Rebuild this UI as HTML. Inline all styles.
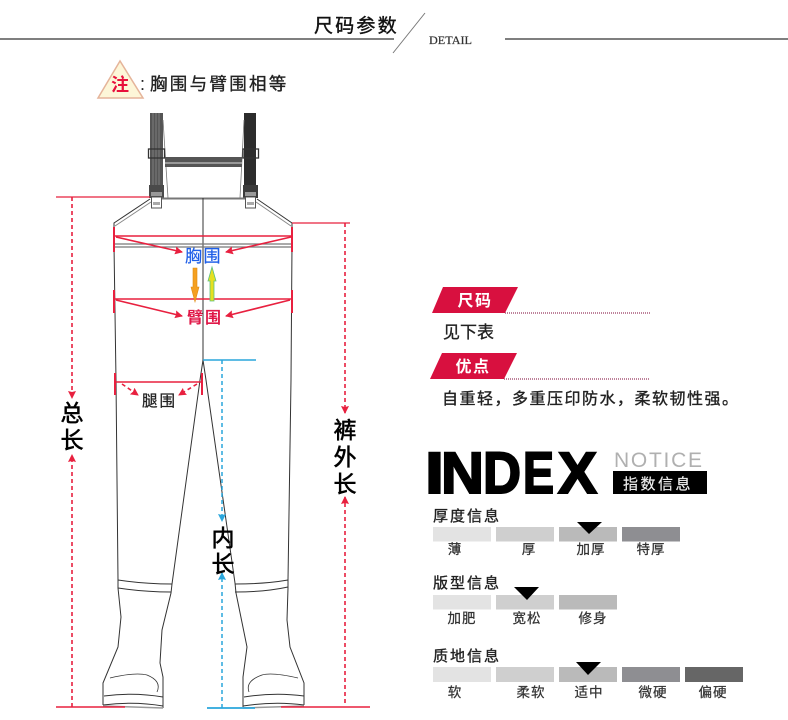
<!DOCTYPE html>
<html><head><meta charset="utf-8">
<style>
html,body{margin:0;padding:0;background:#fff;width:788px;height:720px;overflow:hidden}
svg{display:block;filter:blur(.3px)}
text{font-family:"Liberation Sans","Noto Sans CJK SC",sans-serif}
</style></head><body>
<svg width="788" height="720" viewBox="0 0 788 720" xmlns="http://www.w3.org/2000/svg">
<defs>
<marker id="r" viewBox="0 0 8 8" refX="7" refY="4" markerWidth="8" markerHeight="8" markerUnits="userSpaceOnUse" orient="auto"><path d="M0 0L8 4L0 8L1 4Z" fill="#e8203f"/></marker>
<marker id="b" viewBox="0 0 8 8" refX="7" refY="4" markerWidth="8" markerHeight="8" markerUnits="userSpaceOnUse" orient="auto"><path d="M0 0L8 4L0 8L1 4Z" fill="#2aa6dc"/></marker>
</defs>

<!-- header -->
<line x1="0" y1="39" x2="394" y2="39" stroke="#555" stroke-width="1.500"/>
<line x1="505" y1="39" x2="788" y2="39" stroke="#555" stroke-width="1.500"/>
<line x1="425" y1="13" x2="393" y2="53" stroke="#777" stroke-width="1"/>
<text x="314" y="32" font-size="19" letter-spacing="2.200" fill="#111" stroke="#111" stroke-width=".4">尺码参数</text>
<text x="429" y="44" font-size="12" fill="#333" stroke="#333" stroke-width=".2" style='font-family:"Liberation Serif",serif' textLength="43" lengthAdjust="spacingAndGlyphs">DETAIL</text>

<!-- note -->
<path d="M120 61L98 98H143Z" fill="#fdf6d8" stroke="#e5b49a" stroke-width="1.500"/>
<text x="120" y="91" font-size="18" font-weight="bold" text-anchor="middle" fill="#e8103c">注</text>
<text x="140" y="90" font-size="18" fill="#222">:</text>
<text x="150" y="90" font-size="17.500" letter-spacing="2.300" fill="#222" stroke="#222" stroke-width=".35">胸围与臂围相等</text>

<!-- straps -->
<g>
<rect x="150" y="113" width="13" height="72" fill="#555"/>
<path d="M153 113V185M156 113V185M159 113V185" stroke="#888" stroke-width=".8"/>
<rect x="244" y="113" width="12" height="72" fill="#2c2c2c"/>
<path d="M163 120L168 198M244 120L240 198" stroke="#777" stroke-width=".8"/>
<rect x="165" y="157" width="77" height="10" fill="#555"/>
<rect x="165" y="162" width="77" height="2" fill="#999"/>
<rect x="148.500" y="149" width="16" height="9" fill="none" stroke="#333" stroke-width="1.300"/>
<rect x="243" y="149" width="15.500" height="9" fill="none" stroke="#333" stroke-width="1.300"/>
<rect x="149" y="185" width="15" height="13" fill="#4a4a4a"/>
<rect x="243" y="185" width="15" height="13" fill="#3a3a3a"/>
<rect x="151" y="192" width="11" height="4" fill="#999"/>
<rect x="245" y="192" width="11" height="4" fill="#999"/>
<rect x="151.500" y="197" width="10" height="11" fill="#fff" stroke="#555"/>
<rect x="245.500" y="197" width="10" height="11" fill="#fff" stroke="#555"/>
<rect x="153" y="202" width="7" height="3" fill="#aaa"/>
<rect x="247" y="202" width="7" height="3" fill="#aaa"/>
</g>

<!-- body outline -->
<g fill="none" stroke="#333" stroke-width="1">
<line x1="162" y1="198.500" x2="245" y2="198.500" stroke="#777" stroke-width="2"/>
<path d="M150 199L114 223V245L116 380L118 580L118 588L121 617L118 647L103 683V705"/>
<path d="M151 202L115 226" stroke="#888"/>
<path d="M257 199L292 223V245L291 380L288 580V588L287 620L290 647L304 683V705"/>
<path d="M256 202L291 226" stroke="#888"/>
<line x1="203" y1="198" x2="203" y2="360"/>
<path d="M203 360L200 380L172 584L171 593L162 630L160 663L163 677V708"/>
<path d="M203 360L206 380L235 583L236 593L247 647L243 677V707"/>
<path d="M118 580Q145 584 172 584M118 588Q145 592 171 592"/>
<path d="M235 584Q265 584 288 580M235 592Q265 592 288 587"/>
<path d="M104 696Q134 692 163 697M103 705Q134 701 163 706"/>
<path d="M244 697Q275 692 304 696M243 706Q275 701 304 705"/>
<path d="M110 678Q135 672 147 675Q162 681 157 692" stroke-width=".8"/>
<path d="M298 678Q272 672 262 675Q245 681 249 692" stroke-width=".8"/>
<line x1="103" y1="706" x2="163" y2="708" stroke="#999" stroke-width="1.500"/>
<line x1="243" y1="708" x2="304" y2="706" stroke="#999" stroke-width="1.500"/>
</g>

<!-- chest band -->
<path d="M114 244H292M114 247H292" stroke="#777" stroke-width="1.300"/>

<!-- red measures -->
<g stroke="#e8203f" fill="none" stroke-width="1.600">
<line x1="114" y1="236" x2="292" y2="236"/>
<line x1="114" y1="299" x2="291" y2="299"/>
<line x1="115" y1="382" x2="202" y2="382"/>
<path d="M114 227V252M292 227V252M114 290V313M292 290V313M115 373V395M202 373V395" stroke-width="2"/>
<line x1="116" y1="237" x2="182" y2="252" marker-end="url(#r)"/>
<line x1="291" y1="237" x2="226" y2="252" marker-end="url(#r)"/>
<line x1="116" y1="300" x2="182" y2="316" marker-end="url(#r)"/>
<line x1="290" y1="300" x2="226" y2="316" marker-end="url(#r)"/>
<line x1="122" y1="384" x2="138" y2="395" stroke-dasharray="4 3" marker-end="url(#r)"/>
<line x1="197" y1="384" x2="179" y2="395" stroke-dasharray="4 3" marker-end="url(#r)"/>
<line x1="56" y1="197" x2="150" y2="197" stroke-width="1.200"/>
<line x1="292" y1="223" x2="350" y2="223" stroke-width="1.200"/>
<line x1="56" y1="707" x2="125" y2="707"/>
<line x1="281" y1="707" x2="370" y2="707"/>
<line x1="72" y1="197" x2="72" y2="398" stroke-dasharray="4 3" marker-end="url(#r)"/>
<line x1="72" y1="707" x2="72" y2="455" stroke-dasharray="4 3" marker-end="url(#r)"/>
<line x1="345" y1="223" x2="345" y2="413" stroke-dasharray="4 3" marker-end="url(#r)"/>
<line x1="345" y1="703" x2="345" y2="497" stroke-dasharray="4 3" marker-end="url(#r)"/>
</g>

<!-- blue measures -->
<g stroke="#2aa6dc" fill="none" stroke-width="1.500">
<line x1="203" y1="360" x2="256" y2="360"/>
<line x1="207" y1="708" x2="255" y2="708" stroke-width="1.800"/>
<line x1="222" y1="360" x2="222" y2="521" stroke-dasharray="4 3" marker-end="url(#b)"/>
<line x1="222" y1="708" x2="222" y2="573" stroke-dasharray="4 3" marker-end="url(#b)"/>
</g>

<!-- orange / green arrows -->
<path d="M193 268H197V287H199L195 302L191 287H193Z" fill="#f5a020" stroke="#e08a10" stroke-width=".6"/>
<path d="M210 301H214V281H216L212 267L208 281H210Z" fill="#e6e020" stroke="#5cc080" stroke-width=".8"/>

<!-- labels on diagram -->
<text x="185" y="262" font-size="17" letter-spacing="1.500" fill="#1f5fe8" stroke="#1f5fe8" stroke-width=".2">胸围</text>
<text x="187" y="323" font-size="16" letter-spacing="2" font-weight="bold" fill="#e01848">臂围</text>
<text x="142" y="406" font-size="15.500" letter-spacing="2" fill="#222" stroke="#222" stroke-width=".3">腿围</text>
<g font-size="23" fill="#000" stroke="#000" stroke-width=".6" text-anchor="middle">
<text x="72" y="421">总</text>
<text x="72" y="448">长</text>
<text x="345" y="438">裤</text>
<text x="345" y="465">外</text>
<text x="345" y="492">长</text>
<text x="223" y="546">内</text>
<text x="223" y="572">长</text>
</g>

<!-- right panels -->
<path d="M432 313L443 287H518L505 313Z" fill="#d8103f"/>
<path d="M430 379L442 353H517L504 379Z" fill="#d8103f"/>
<line x1="505" y1="313" x2="651" y2="313" stroke="#a85a7a" stroke-width="1.500" stroke-dasharray="1 1"/>
<line x1="504" y1="379" x2="650" y2="379" stroke="#a85a7a" stroke-width="1.500" stroke-dasharray="1 1"/>
<text x="475" y="306" font-size="16" font-weight="bold" letter-spacing="1.500" text-anchor="middle" fill="#fff">尺码</text>
<text x="473" y="372" font-size="16" font-weight="bold" letter-spacing="1.500" text-anchor="middle" fill="#fff">优点</text>
<text x="443" y="338" font-size="17" fill="#222" stroke="#222" stroke-width=".3">见下表</text>
<text x="442" y="404" font-size="16" letter-spacing="1.500" fill="#222" stroke="#222" stroke-width=".35">自重轻，多重压印防水，柔软韧性强。</text>

<!-- INDEX -->
<g font-size="58" font-weight="bold" fill="#000" stroke="#000" stroke-width="2">
<text x="425" y="493" textLength="19" lengthAdjust="spacingAndGlyphs">I</text>
<text x="441" y="493" textLength="43" lengthAdjust="spacingAndGlyphs">N</text>
<text x="483" y="493" textLength="38" lengthAdjust="spacingAndGlyphs">D</text>
<text x="523" y="493" textLength="31" lengthAdjust="spacingAndGlyphs">E</text>
<text x="558" y="493" textLength="39" lengthAdjust="spacingAndGlyphs">X</text>
</g>
<text x="614" y="467" font-size="21" fill="#b0b0b0" textLength="88">NOTICE</text>
<rect x="613" y="471" width="94" height="23" fill="#000"/>
<text x="623" y="489" font-size="15" letter-spacing="2.500" fill="#eee" stroke="#eee" stroke-width=".2">指数信息</text>

<!-- scale sections -->
<g font-size="15" letter-spacing="2" fill="#222" stroke="#222" stroke-width=".35">
<text x="433" y="521">厚度信息</text>
<text x="433" y="588">版型信息</text>
<text x="433" y="661">质地信息</text>
</g>
<g>
<rect x="433" y="527" width="58" height="14.500" fill="#e3e3e3"/>
<rect x="496" y="527" width="58" height="14.500" fill="#cfcfcf"/>
<rect x="559" y="527" width="58" height="14.500" fill="#bababa"/>
<rect x="622" y="527" width="58" height="14.500" fill="#8e8e92"/>
<rect x="433" y="595" width="58" height="14.500" fill="#e3e3e3"/>
<rect x="496" y="595" width="58" height="14.500" fill="#cfcfcf"/>
<rect x="559" y="595" width="58" height="14.500" fill="#bababa"/>
<rect x="433" y="667" width="58" height="15" fill="#e3e3e3"/>
<rect x="496" y="667" width="58" height="15" fill="#cfcfcf"/>
<rect x="559" y="667" width="58" height="15" fill="#bababa"/>
<rect x="622" y="667" width="58" height="15" fill="#8e8e92"/>
<rect x="685" y="667" width="58" height="15" fill="#666"/>
</g>
<path d="M577 522H602L589 534Z M514 587H539L527 600Z M576 662H601L588 675Z" fill="#000"/>
<g font-size="13.500" letter-spacing="1" fill="#333" stroke="#333" stroke-width=".25" text-anchor="middle">
<text x="455" y="554">薄</text>
<text x="529" y="554">厚</text>
<text x="591" y="554">加厚</text>
<text x="651" y="554">特厚</text>
<text x="462" y="623">加肥</text>
<text x="527" y="623">宽松</text>
<text x="593" y="623">修身</text>
<text x="455" y="697">软</text>
<text x="531" y="697">柔软</text>
<text x="589" y="697">适中</text>
<text x="653" y="697">微硬</text>
<text x="713" y="697">偏硬</text>
</g>
</svg>
</body></html>
